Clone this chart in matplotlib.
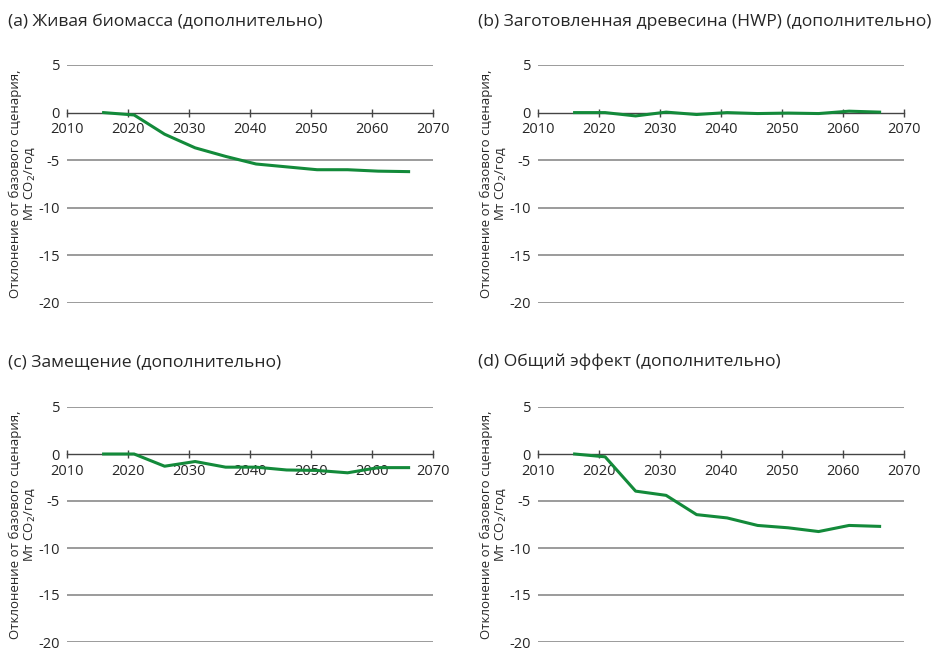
import matplotlib
matplotlib.use("Agg")
import matplotlib.pyplot as plt

plt.rcParams['font.family'] = ['Open Sans', 'DejaVu Sans']

years = [2016, 2021, 2026, 2031, 2036, 2041, 2046, 2051, 2056, 2061, 2066]

# отклонение от базового сценария, Мт CO2/год
live_biomass = [0, -0.25, -2.27, -3.7, -4.6, -5.4, -5.7, -6.0, -6.0, -6.15, -6.2]
hwp = [0, 0, -0.35, 0.05, -0.2, 0, -0.1, -0.05, -0.1, 0.15, 0.05]
substitution = [0, 0, -1.3, -0.8, -1.4, -1.4, -1.7, -1.75, -2.0, -1.45, -1.45]
total = [0, -0.3, -3.95, -4.4, -6.45, -6.8, -7.6, -7.85, -8.25, -7.6, -7.7]

titles = ["(a) Живая биомасса (дополнительно)",
          "(b) Заготовленная древесина (HWP) (дополнительно)",
          "(c) Замещение (дополнительно)",
          "(d) Общий эффект (дополнительно)"]
series = [live_biomass, hwp, substitution, total]

xticks = [2010, 2020, 2030, 2040, 2050, 2060, 2070]
yticks = [5, 0, -5, -10, -15, -20]
ylabel = "Отклонение от базового сценария,\nМт CO$_2$/год"

W, H = 944, 650
fig = plt.figure(figsize=(W / 100, H / 100), dpi=100)

# (left px, top px of y=5, bottom px of y=-20, title x px, title y px)
boxes = [(67, 65, 303, 8, 22),
         (538, 65, 303, 478, 22),
         (67, 407, 642, 8, 362),
         (538, 407, 642, 478, 362)]

green = '#138a3a'
txt = '#262626'

for (lx, top, bot, tx, ty), title, vals in zip(boxes, titles, series):
    ax = fig.add_axes([lx / W, (H - bot) / H, 366 / W, (bot - top) / H])
    ax.set_xlim(2010, 2070)
    ax.set_ylim(-20, 5)
    for v in yticks:
        if v != 0:
            ax.axhline(v, color='#8a8a8a', lw=1.2, zorder=1)
    ax.plot(years, vals, color=green, lw=2.2, zorder=3)
    for s in ['top', 'right', 'left']:
        ax.spines[s].set_visible(False)
    ax.spines['bottom'].set_position(('data', 0))
    ax.spines['bottom'].set_color('#444444')
    ax.spines['bottom'].set_linewidth(1)
    ax.spines['bottom'].set_zorder(2)
    ax.set_xticks(xticks)
    ax.set_yticks(yticks)
    ax.set_yticklabels([str(v) for v in yticks])
    ax.tick_params(axis='x', direction='inout', length=6, width=1, color='#444444',
                   labelsize=10.5, labelcolor=txt, pad=4)
    ax.tick_params(axis='y', length=0, labelsize=10.5, labelcolor=txt, pad=5)
    ax.set_ylabel(ylabel, fontsize=9.5, color=txt, linespacing=1.1)
    ax.yaxis.set_label_coords(-0.082, 0.5)
    ax.patch.set_alpha(0)
    fig.text(tx / W, 1 - ty / H, title, fontsize=12.6, color=txt, va='center', ha='left')

fig.savefig("out.png", dpi=100)
